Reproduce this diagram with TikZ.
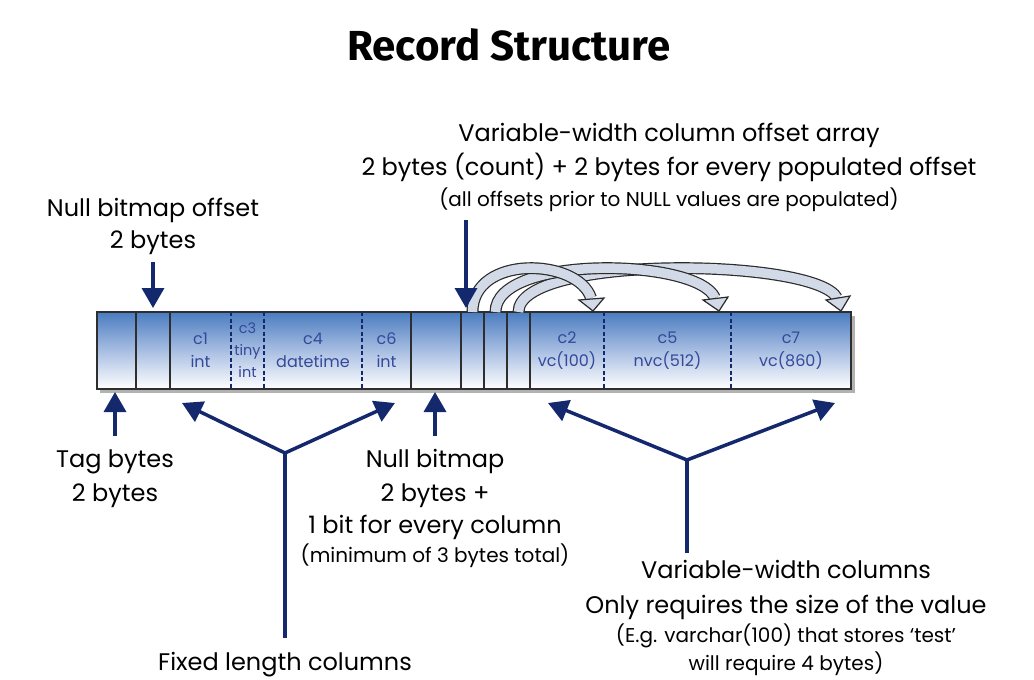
\documentclass[tikz,border=0pt]{standalone}
\usepackage{fontspec}
\setmainfont{Poppins}
\newfontfamily\titlefont{Fira Sans}
\usetikzlibrary{arrows.meta, calc}
\definecolor{navy}{HTML}{14286E}
\definecolor{bartop}{HTML}{4A7CC0}
\definecolor{barmid}{HTML}{A8BEE2}
\definecolor{barline}{HTML}{2E2E2E}
\definecolor{celltext}{HTML}{34499A}
\definecolor{arcline}{HTML}{2A2A2A}
\definecolor{arcfill}{HTML}{D2DAE7}
\newcommand\bodyfont{\fontsize{24}{28}\selectfont}
\newcommand\smallfont{\fontsize{20}{24}\selectfont}
\newcommand\cellfont{\fontsize{16}{23}\selectfont}
\newcommand\tinycellfont{\fontsize{14.5}{22}\selectfont}
% #1 start, #2 control1, #3 control2, #4 band end, #5 #6 #7 head: left corner, tip, right corner
\newcommand\offsetarc[7]{%
  \draw[arcband] #1 .. controls #2 and #3 .. #4;
  \draw[archead] #5 -- #6 -- #7 -- cycle;
}
\begin{document}
\begin{tikzpicture}[x=1pt, y=-1pt,
  seg/.style={draw=barline, line width=1.5pt, top color=bartop, bottom color=white, middle color=barmid, minimum height=77pt, inner sep=0pt, outer sep=0pt, anchor=north west},
  cell/.style={minimum height=77pt, inner sep=0pt, outer sep=0pt, anchor=north west, text=celltext, font=\cellfont, align=center},
  divider/.style={draw=navy, line width=1.3pt, dash pattern=on 4pt off 2.5pt},
  lbl/.style={font=\bodyfont, anchor=base, inner sep=0pt, text=black},
  slbl/.style={font=\smallfont, anchor=base, inner sep=0pt, text=black},
  arr/.style={draw=navy, line width=3.5pt, -{Triangle[width=22pt, length=20pt]}},
  darr/.style={draw=navy, line width=3.5pt, line join=miter, {Triangle[width=22pt, length=20pt]}-{Triangle[width=22pt, length=20pt]}},
  stem/.style={draw=navy, line width=3.5pt},
  arcband/.style={draw=arcline, line width=1.2pt, double=arcfill, double distance=9.5pt},
  archead/.style={draw=arcline, fill=arcfill, line width=1.2pt, line join=miter},
]
\fill[white] (0,0) rectangle (1034,680);
\useasboundingbox (0,0) rectangle (1034,680);

% title
\node[anchor=base, inner sep=0pt, font=\titlefont\bfseries\fontsize{42}{48}\selectfont] (title) at (509,60) {Record Structure};

% bar shadow
\fill[black!30] (100,316) rectangle (855,393);

% bar segments
\node[seg, minimum width=39pt] (tag) at (97,312) {};
\node[seg, minimum width=34pt] (nbo) at (136,312) {};
\node[seg, minimum width=241pt] (fixed) at (170,312) {};
\node[seg, minimum width=50pt] (nb) at (411,312) {};
\node[seg, minimum width=23pt] (off0) at (461,312) {};
\node[seg, minimum width=23pt] (off1) at (484,312) {};
\node[seg, minimum width=23pt] (off2) at (507,312) {};
\node[seg, minimum width=321pt] (var) at (530,312) {};

% cells
\node[cell, minimum width=61pt] (c1) at (170,312) {c1\\int};
\node[cell, minimum width=33pt, font=\tinycellfont] (c3) at (231,312) {c3\\tiny\\int};
\node[cell, minimum width=98pt] (c4) at (264,312) {c4\\datetime};
\node[cell, minimum width=49pt] (c6) at (362,312) {c6\\int};
\node[cell, minimum width=74pt] (c2) at (530,312) {c2\\vc(100)};
\node[cell, minimum width=127pt] (c5) at (604,312) {c5\\nvc(512)};
\node[cell, minimum width=120pt] (c7) at (731,312) {c7\\vc(860)};
\draw[divider] (c3.north west) -- (c3.south west);
\draw[divider] (c4.north west) -- (c4.south west);
\draw[divider] (c6.north west) -- (c6.south west);
\draw[divider] (c5.north west) -- (c5.south west);
\draw[divider] (c7.north west) -- (c7.south west);

% offset arcs
\coordinate (e1) at (591,298);
\coordinate (e2) at (715,298);
\coordinate (e3) at (837,298);
\coordinate (k1) at (578,258);
\coordinate (k2) at (698,258);
\coordinate (k3) at (816,258);
\offsetarc{(off2.north)}{($(off2.north)+(0,-58)$)}{(k3)}{(e3)}{(826,300)}{(841,311)}{(850,296)}
\offsetarc{(off1.north)}{($(off1.north)+(0,-58)$)}{(k2)}{(e2)}{(703,300)}{(719,311)}{(728,297)}
\offsetarc{(off0.north)}{($(off0.north)+(0,-58)$)}{(k1)}{(e1)}{(579,300)}{(593,311)}{(604,298)}

% labels top
\node[lbl] (lnbo1) at (153,216) {Null bitmap offset};
\node[lbl] (lnbo2) at (153,248) {2 bytes};
\node[lbl] (lvoa1) at (669,141) {Variable-width column offset array};
\node[lbl] (lvoa2) at (669,175) {2 bytes (count) + 2 bytes for every populated offset};
\node[slbl] (lvoa3) at (669,206) {(all offsets prior to NULL values are populated)};
\coordinate (voa) at (466,211);

% labels bottom
\node[lbl] (ltag1) at (115,467) {Tag bytes};
\node[lbl] (ltag2) at (115,501) {2 bytes};
\node[lbl] (lnb1) at (435,467) {Null bitmap};
\node[lbl] (lnb2) at (435,501) {2 bytes +};
\node[lbl] (lnb3) at (435,533) {1 bit for every column};
\node[slbl] (lnb4) at (435,562) {(minimum of 3 bytes total)};
\node[lbl] (lfix) at (285,670) {Fixed length columns};
\node[lbl] (lvw1) at (786,578) {Variable-width columns};
\node[lbl] (lvw2) at (786,613) {Only requires the size of the value};
\node[slbl] (lvw3) at (786,642) {(E.g. varchar(100) that stores ‘test’};
\node[slbl] (lvw4) at (786,670) {will require 4 bytes)};

% pointer arrows
\draw[arr, shorten <=8pt, shorten >=4pt] (lnbo2.south) -- (lnbo2.south |- nbo.north);
\draw[arr, shorten <=9pt, shorten >=4pt] (voa) -- (voa |- off0.north);
\draw[arr, shorten <=13pt, shorten >=3pt] (ltag1.north) -- (ltag1.north |- tag.south);
\draw[arr, shorten <=13pt, shorten >=3pt] (lnb1.north) -- (lnb1.north |- nb.south);

% fixed columns fork
\coordinate (j1) at (285,453);
\coordinate (fixL) at (182,403);
\coordinate (fixR) at (395,403);
\draw[darr] (fixL) -- (j1) -- (fixR);
\draw[stem, shorten <=14pt] (lfix.north) -- (j1);

% variable columns fork
\coordinate (j2) at (687,460);
\coordinate (varL) at (548,403);
\coordinate (varR) at (835,403);
\draw[darr] (varL) -- (j2) -- (varR);
\draw[stem, shorten <=7pt] (j2 |- lvw1.north) -- (j2);
\end{tikzpicture}
\end{document}
